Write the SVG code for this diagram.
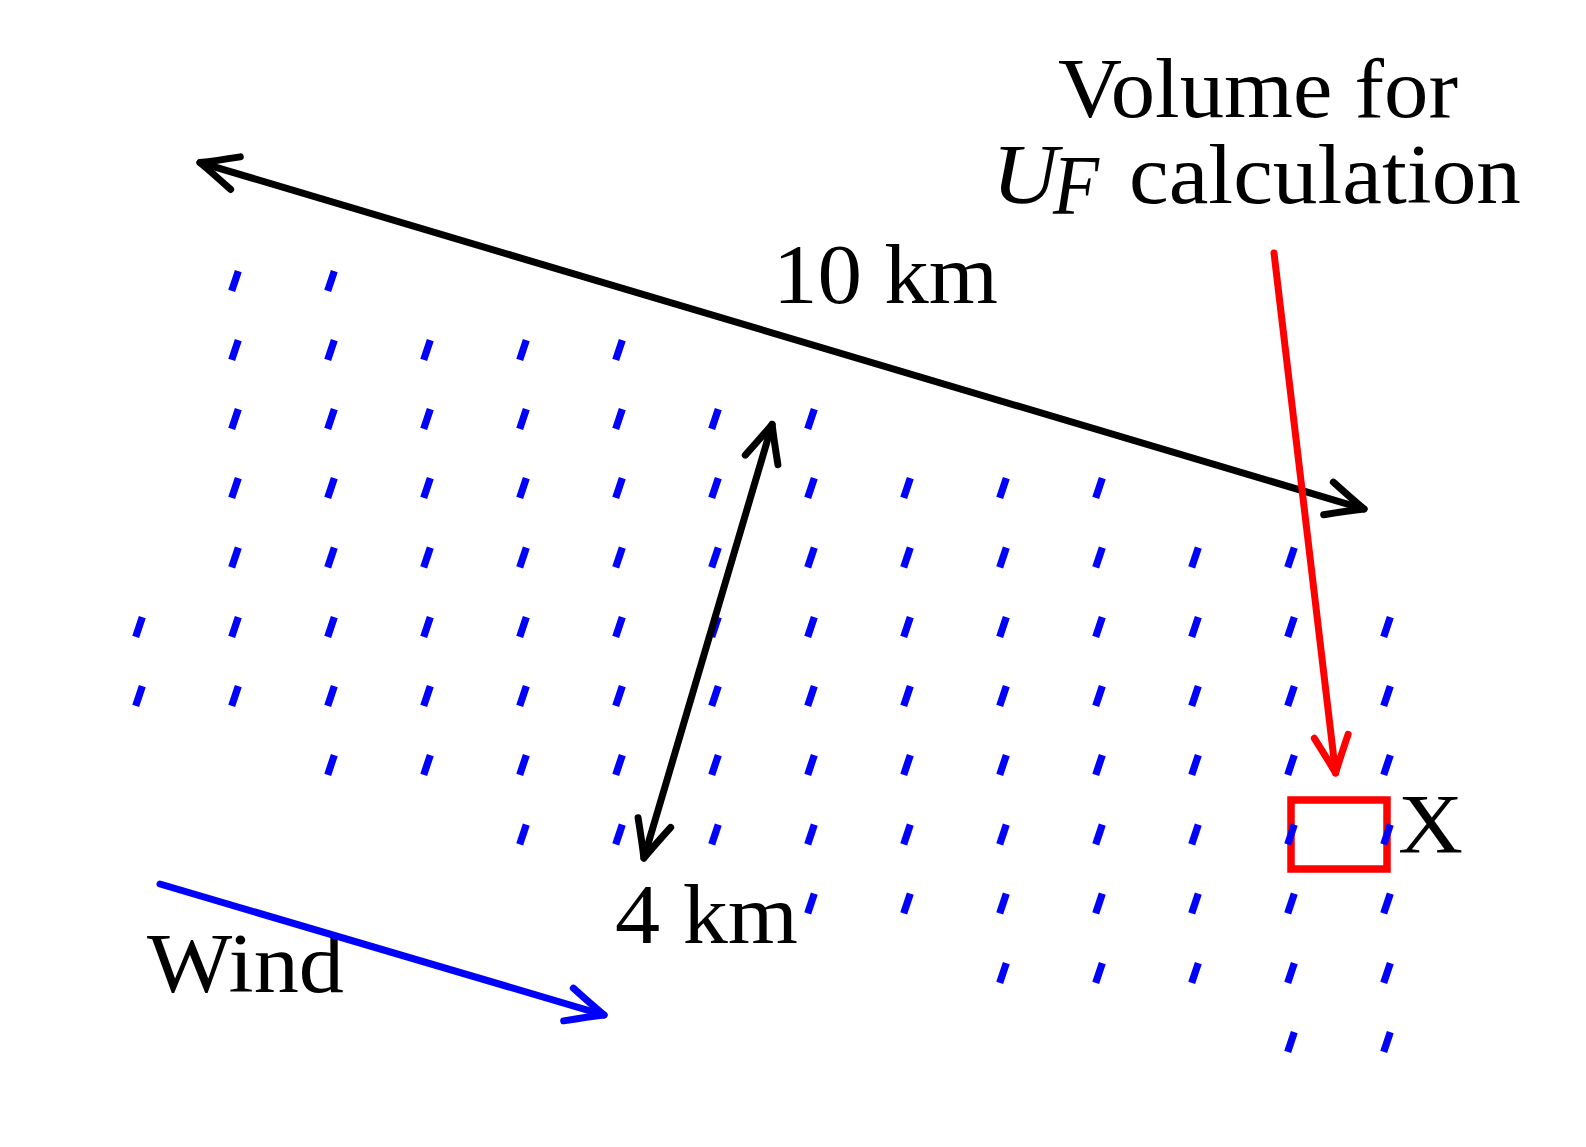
<svg xmlns="http://www.w3.org/2000/svg" xmlns:xlink="http://www.w3.org/1999/xlink" width="1586" height="1147" viewBox="0 0 1586 1147">
<style>
.lbl{font-family:"Liberation Serif","Times New Roman",serif;font-size:84px;fill:#000}
.it{font-style:italic}
.t{stroke:#0000ff;stroke-width:7.2;stroke-linecap:butt}
.cn{fill:none;stroke-width:7;stroke-linecap:round}
.ah{fill:none;stroke-width:7;stroke-linecap:round;stroke-linejoin:round}
</style>
<defs>
<line id="t" class="t" x1="-3.3" y1="9.9" x2="3.3" y2="-9.9"/>
<marker id="hk" markerUnits="userSpaceOnUse" orient="auto-start-reverse" refX="0" refY="0" markerWidth="80" markerHeight="80" overflow="visible"><path class="ah" stroke="#000" d="M-37,-17 Q-14,-6 0,0 Q-14,6 -37,17"/></marker>
<marker id="hb" markerUnits="userSpaceOnUse" orient="auto" refX="0" refY="0" markerWidth="80" markerHeight="80" overflow="visible"><path class="ah" stroke="#0000ff" d="M-37,-17 Q-14,-6 0,0 Q-14,6 -37,17"/></marker>
<marker id="hr" markerUnits="userSpaceOnUse" orient="auto" refX="0" refY="0" markerWidth="80" markerHeight="80" overflow="visible"><path class="ah" stroke="#ff0000" d="M-37,-17 Q-14,-6 0,0 Q-14,6 -37,17"/></marker>
</defs>
<rect width="1586" height="1147" fill="#fff"/>
<g id="volume-box">
<rect x="1291" y="800" width="96" height="69" fill="none" stroke="#ff0000" stroke-width="7.5"/>
</g>
<g id="turbines">
<g transform="translate(0,281)"><use href="#t" x="235"/><use href="#t" x="331"/></g>
<g transform="translate(0,350)"><use href="#t" x="235"/><use href="#t" x="331"/><use href="#t" x="427"/><use href="#t" x="523"/><use href="#t" x="619"/></g>
<g transform="translate(0,419)"><use href="#t" x="235"/><use href="#t" x="331"/><use href="#t" x="427"/><use href="#t" x="523"/><use href="#t" x="619"/><use href="#t" x="715"/><use href="#t" x="811"/></g>
<g transform="translate(0,488)"><use href="#t" x="235"/><use href="#t" x="331"/><use href="#t" x="427"/><use href="#t" x="523"/><use href="#t" x="619"/><use href="#t" x="715"/><use href="#t" x="811"/><use href="#t" x="907"/><use href="#t" x="1003"/><use href="#t" x="1099"/></g>
<g transform="translate(0,557.5)"><use href="#t" x="235"/><use href="#t" x="331"/><use href="#t" x="427"/><use href="#t" x="523"/><use href="#t" x="619"/><use href="#t" x="715"/><use href="#t" x="811"/><use href="#t" x="907"/><use href="#t" x="1003"/><use href="#t" x="1099"/><use href="#t" x="1195"/><use href="#t" x="1291"/></g>
<g transform="translate(0,627)"><use href="#t" x="139"/><use href="#t" x="235"/><use href="#t" x="331"/><use href="#t" x="427"/><use href="#t" x="523"/><use href="#t" x="619"/><use href="#t" x="715"/><use href="#t" x="811"/><use href="#t" x="907"/><use href="#t" x="1003"/><use href="#t" x="1099"/><use href="#t" x="1195"/><use href="#t" x="1291"/><use href="#t" x="1387"/></g>
<g transform="translate(0,696)"><use href="#t" x="139"/><use href="#t" x="235"/><use href="#t" x="331"/><use href="#t" x="427"/><use href="#t" x="523"/><use href="#t" x="619"/><use href="#t" x="715"/><use href="#t" x="811"/><use href="#t" x="907"/><use href="#t" x="1003"/><use href="#t" x="1099"/><use href="#t" x="1195"/><use href="#t" x="1291"/><use href="#t" x="1387"/></g>
<g transform="translate(0,765)"><use href="#t" x="331"/><use href="#t" x="427"/><use href="#t" x="523"/><use href="#t" x="619"/><use href="#t" x="715"/><use href="#t" x="811"/><use href="#t" x="907"/><use href="#t" x="1003"/><use href="#t" x="1099"/><use href="#t" x="1195"/><use href="#t" x="1291"/><use href="#t" x="1387"/></g>
<g transform="translate(0,834.5)"><use href="#t" x="523"/><use href="#t" x="619"/><use href="#t" x="715"/><use href="#t" x="811"/><use href="#t" x="907"/><use href="#t" x="1003"/><use href="#t" x="1099"/><use href="#t" x="1195"/><use href="#t" x="1291"/><use href="#t" x="1387"/></g>
<g transform="translate(0,903.5)"><use href="#t" x="811"/><use href="#t" x="907"/><use href="#t" x="1003"/><use href="#t" x="1099"/><use href="#t" x="1195"/><use href="#t" x="1291"/><use href="#t" x="1387"/></g>
<g transform="translate(0,973)"><use href="#t" x="1003"/><use href="#t" x="1099"/><use href="#t" x="1195"/><use href="#t" x="1291"/><use href="#t" x="1387"/></g>
<g transform="translate(0,1042)"><use href="#t" x="1291"/><use href="#t" x="1387"/></g>
</g>
<g id="label-10km"><text class="lbl" x="773" y="303" textLength="225" lengthAdjust="spacingAndGlyphs">10 km</text></g>
<g id="label-4km"><text class="lbl" x="615" y="943" textLength="183" lengthAdjust="spacingAndGlyphs">4 km</text></g>
<g id="label-wind"><text class="lbl" x="147" y="992" textLength="197" lengthAdjust="spacingAndGlyphs">Wind</text></g>
<g id="label-x"><text class="lbl" x="1398" y="853" textLength="65" lengthAdjust="spacingAndGlyphs">X</text></g>
<g id="label-volume">
<text class="lbl" x="1058" y="117" textLength="400" lengthAdjust="spacingAndGlyphs">Volume for</text>
<text class="lbl it" x="992" y="203" textLength="66" lengthAdjust="spacingAndGlyphs">U</text>
<text class="lbl it" x="1053" y="214" font-size="60" textLength="46" lengthAdjust="spacingAndGlyphs">F</text>
<text class="lbl" x="1129" y="203" textLength="392" lengthAdjust="spacingAndGlyphs">calculation</text>
</g>
<g id="connectors">
<path class="cn" stroke="#000" d="M200,162.6 L1364,509" marker-start="url(#hk)" marker-end="url(#hk)"/>
<path class="cn" stroke="#000" d="M772.1,424.4 L643.9,858.1" marker-start="url(#hk)" marker-end="url(#hk)"/>
<path class="cn" stroke="#0000ff" d="M160,884 L604,1015" marker-end="url(#hb)"/>
<path class="cn" stroke="#ff0000" d="M1274,253 L1335.6,773" marker-end="url(#hr)"/>
</g>
</svg>
